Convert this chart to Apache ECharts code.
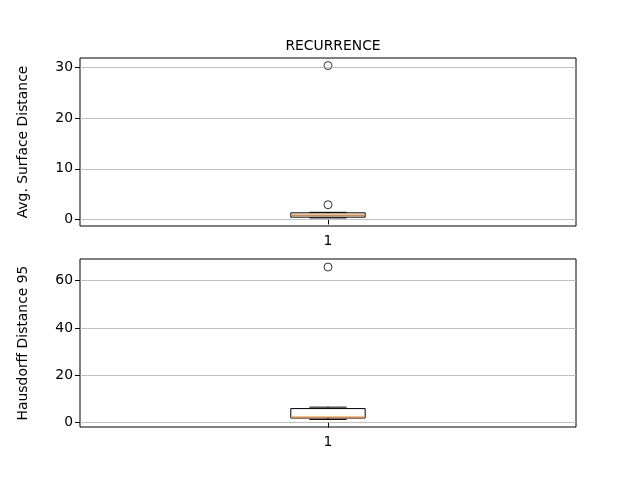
<!DOCTYPE html>
<html><head><meta charset="utf-8">
<script src="https://cdn.jsdelivr.net/npm/echarts@6/dist/echarts.min.js"></script>
<style>html,body{margin:0;padding:0;background:#fff}#c{width:640px;height:480px}</style>
</head><body><div id="c"></div>
<script>
// Box stats: [position, lowerWhisker, Q1, median, Q3, upperWhisker]
const categories = ['1'];
const asdBox = [1, 0.3, 0.45, 0.8, 1.3, 1.4];
const asdOutliers = [2.9, 30.4];
const hd95Box = [1, 1.3, 1.9, 2.2, 5.9, 6.5];
const hd95Outliers = [65.8];
const asdTicks = [0, 10, 20, 30];
const hd95Ticks = [0, 20, 40, 60];
const title = 'RECURRENCE';
const asdLabel = 'Avg. Surface Distance';
const hd95Label = 'Hausdorff Distance 95';

const FONT = 'DejaVu Sans';
const FS = 13.9;
const BOXW = 0.075;
function renderBox(params, api) {
  const x = api.value(0);
  const lw = api.value(1), q1 = api.value(2), med = api.value(3), q3 = api.value(4), hw = api.value(5);
  const L = api.coord([x - BOXW, q1])[0], R = api.coord([x + BOXW, q1])[0];
  const cL = api.coord([x - BOXW / 2, q1])[0], cR = api.coord([x + BOXW / 2, q1])[0];
  const cx = api.coord([x, q1])[0];
  const y = v => api.coord([x, v])[1];
  const black = {stroke: '#000', lineWidth: 1, fill: null};
  return {type: 'group', children: [
    {type: 'line', shape: {x1: cx, y1: y(q1), x2: cx, y2: y(lw)}, style: black},
    {type: 'line', shape: {x1: cx, y1: y(q3), x2: cx, y2: y(hw)}, style: black},
    {type: 'line', shape: {x1: cL, y1: y(lw), x2: cR, y2: y(lw)}, style: black},
    {type: 'line', shape: {x1: cL, y1: y(hw), x2: cR, y2: y(hw)}, style: black},
    {type: 'rect', shape: {x: L, y: y(q3), width: R - L, height: y(q1) - y(q3)}, style: {stroke: '#000', lineWidth: 1, fill: 'none'}},
    {type: 'line', shape: {x1: L, y1: y(med), x2: R, y2: y(med)}, style: {stroke: '#ff7f0e', lineWidth: 1.5}}
  ]};
}
function xAxis(gi) {
  return {type: 'value', gridIndex: gi, min: 0.5, max: 1.5,
    axisLine: {show: false}, splitLine: {show: false},
    axisTick: {show: true, customValues: [1], length: 5, lineStyle: {color: '#000'}},
    axisLabel: {customValues: [1], formatter: () => categories[0], color: '#000', fontFamily: FONT, fontSize: FS, margin: 8}};
}
function yAxis(gi, min, max, ticks, name) {
  return {type: 'value', gridIndex: gi, min: min, max: max, name: name,
    nameLocation: 'middle', nameGap: 50, nameRotate: 90,
    nameTextStyle: {color: '#000', fontFamily: FONT, fontSize: FS},
    axisLine: {show: false}, splitLine: {show: false},
    axisTick: {show: true, customValues: ticks, length: 5, lineStyle: {color: '#000'}},
    axisLabel: {customValues: ticks, color: '#000', fontFamily: FONT, fontSize: FS, margin: 7}};
}
function gridLines(gi, ticks) {
  return {type: 'line', xAxisIndex: gi, yAxisIndex: gi, data: [], silent: true, z: 0,
    markLine: {silent: true, symbol: 'none', label: {show: false},
      lineStyle: {color: '#b0b0b0', width: 0.8, type: 'solid'},
      data: ticks.map(t => ({yAxis: t}))}};
}
const chart = echarts.init(document.getElementById('c'), null, {renderer: 'canvas'});
chart.setOption({
  animation: false,
  backgroundColor: '#fff',
  title: {text: title, left: 328, top: 34, textAlign: 'center',
    textStyle: {fontFamily: FONT, fontSize: FS, fontWeight: 'normal', color: '#000'}},
  grid: [
    {left: 80, top: 58, width: 496, height: 168, show: true, borderColor: '#000', borderWidth: 1, backgroundColor: 'transparent'},
    {left: 80, top: 259, width: 496, height: 168, show: true, borderColor: '#000', borderWidth: 1, backgroundColor: 'transparent'}
  ],
  xAxis: [xAxis(0), xAxis(1)],
  yAxis: [yAxis(0, -1.3, 31.9, asdTicks, asdLabel), yAxis(1, -1.9, 69.2, hd95Ticks, hd95Label)],
  series: [
    gridLines(0, asdTicks),
    gridLines(1, hd95Ticks),
    {type: 'custom', xAxisIndex: 0, yAxisIndex: 0, renderItem: renderBox, data: [asdBox], z: 3},
    {type: 'custom', xAxisIndex: 1, yAxisIndex: 1, renderItem: renderBox, data: [hd95Box], z: 3},
    {type: 'scatter', xAxisIndex: 0, yAxisIndex: 0, symbol: 'circle', symbolSize: 8,
      itemStyle: {color: 'transparent', borderColor: '#000', borderWidth: 1}, z: 4,
      data: asdOutliers.map(v => [1, v])},
    {type: 'scatter', xAxisIndex: 1, yAxisIndex: 1, symbol: 'circle', symbolSize: 8,
      itemStyle: {color: 'transparent', borderColor: '#000', borderWidth: 1}, z: 4,
      data: hd95Outliers.map(v => [1, v])}
  ]
});
</script></body></html>
